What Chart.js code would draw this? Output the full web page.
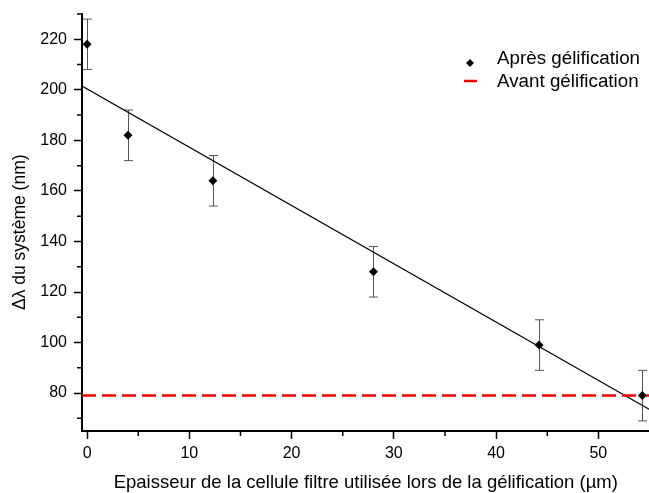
<!DOCTYPE html>
<html>
<head>
<meta charset="utf-8">
<script src="https://cdn.jsdelivr.net/npm/chart.js@4.4.1/dist/chart.umd.min.js"></script>
<style>
  html, body { margin: 0; padding: 0; background: #fff; overflow: hidden; }
  #wrap { width: 649px; height: 493px; overflow: hidden; }
</style>
</head>
<body>
<div id="wrap"><canvas id="chart" width="654" height="493"></canvas></div>
<script>
// données
const epaisseur = [0, 4, 12.3, 28, 44.2, 54.3];
const deltaLambda = [218, 182, 164, 128, 99, 79];
const erreur = [10, 10, 10, 10, 10, 10];

// droite d'ajustement (extrémités)
const fitX = [-0.5, 55];
const fitY = [201.5, 73.5];

// référence avant gélification
const avantX = [-0.5, 55];
const avantY = [79, 79];

const xTicks = [0, 10, 20, 30, 40, 50];
const xMinor = [5, 15, 25, 35, 45];
const yTicks = [80, 100, 120, 140, 160, 180, 200, 220];
const yMinor = [70, 90, 110, 130, 150, 170, 190, 210, 230];

const FONT = 'Liberation Sans, Arial, sans-serif';

const toPts = (xs, ys) => xs.map((x, i) => ({x: x, y: ys[i]}));

// barres d'erreur
const errorBars = {
  id: 'errorBars',
  beforeDatasetsDraw(chart) {
    const {ctx, scales: {x, y}} = chart;
    ctx.save();
    ctx.strokeStyle = '#555';
    ctx.lineWidth = 1;
    epaisseur.forEach((v, i) => {
      const px = Math.round(x.getPixelForValue(v)) + 0.5;
      const top = y.getPixelForValue(deltaLambda[i] + erreur[i]);
      const bot = y.getPixelForValue(deltaLambda[i] - erreur[i]);
      ctx.beginPath();
      ctx.moveTo(px, top); ctx.lineTo(px, bot);
      ctx.moveTo(px - 4.5, top); ctx.lineTo(px + 4.5, top);
      ctx.moveTo(px - 4.5, bot); ctx.lineTo(px + 4.5, bot);
      ctx.stroke();
    });
    ctx.restore();
  }
};

// petites graduations
const minorTicks = {
  id: 'minorTicks',
  afterDraw(chart) {
    const {ctx, scales: {x, y}, chartArea} = chart;
    ctx.save();
    ctx.strokeStyle = '#000';
    ctx.lineWidth = 1.5;
    ctx.beginPath();
    yMinor.forEach(v => {
      const py = y.getPixelForValue(v);
      ctx.moveTo(chartArea.left - 5, py); ctx.lineTo(chartArea.left, py);
    });
    xMinor.forEach(v => {
      const px = x.getPixelForValue(v);
      ctx.moveTo(px, chartArea.bottom); ctx.lineTo(px, chartArea.bottom + 5);
    });
    ctx.stroke();
    ctx.restore();
  }
};

// légende dans la zone du graphe
const legendBox = {
  id: 'legendBox',
  afterDraw(chart) {
    const ctx = chart.ctx;
    ctx.save();
    ctx.fillStyle = '#000';
    ctx.beginPath();
    ctx.moveTo(470, 59); ctx.lineTo(474, 63); ctx.lineTo(470, 67); ctx.lineTo(466, 63);
    ctx.closePath();
    ctx.fill();
    ctx.strokeStyle = '#e00';
    ctx.lineWidth = 2.5;
    ctx.beginPath();
    ctx.moveTo(464, 81); ctx.lineTo(477, 81);
    ctx.stroke();
    ctx.font = '18.8px ' + FONT;
    ctx.textBaseline = 'alphabetic';
    ctx.fillStyle = '#000';
    ctx.fillText('Après gélification', 497, 64);
    ctx.fillText('Avant gélification', 497, 87);
    ctx.restore();
  }
};

new Chart(document.getElementById('chart'), {
  type: 'scatter',
  data: {
    datasets: [
      {
        label: 'Après gélification',
        data: toPts(epaisseur, deltaLambda),
        pointStyle: 'rectRot',
        pointRadius: 4.5,
        backgroundColor: '#000',
        borderColor: '#000',
        borderWidth: 0,
        order: 0
      },
      {
        label: 'fit',
        data: toPts(fitX, fitY),
        showLine: true,
        borderColor: '#000',
        borderWidth: 1.2,
        pointRadius: 0,
        order: 2
      },
      {
        label: 'Avant gélification',
        data: toPts(avantX, avantY),
        showLine: true,
        borderColor: '#e00',
        borderWidth: 2.5,
        borderDash: [14, 6],
        pointRadius: 0,
        order: 1
      }
    ]
  },
  options: {
    responsive: false,
    animation: false,
    devicePixelRatio: 1,
    layout: { padding: { top: 14, right: 0, left: 0, bottom: 0 } },
    plugins: { legend: { display: false }, tooltip: { enabled: false } },
    scales: {
      x: {
        type: 'linear',
        min: -0.5,
        max: 55,
        afterBuildTicks: s => { s.ticks = xTicks.map(v => ({value: v})); },
        afterFit: s => { s.height = 62; s.paddingLeft = 0; s.paddingRight = 0; },
        grid: { drawOnChartArea: false, drawTicks: true, tickLength: 8, color: '#000', tickWidth: 1.5 },
        border: { display: true, color: '#000', width: 2 },
        ticks: { color: '#000', font: { family: FONT, size: 16 }, padding: 5, maxRotation: 0 },
        title: {
          display: true,
          text: 'Epaisseur de la cellule filtre utilisée lors de la gélification (µm)',
          color: '#000',
          font: { family: FONT, size: 18.5 },
          padding: { top: 0, bottom: -1 }
        }
      },
      y: {
        type: 'linear',
        min: 65,
        max: 230,
        afterBuildTicks: s => { s.ticks = yTicks.map(v => ({value: v})); },
        afterFit: s => { s.width = 82; s.paddingTop = 0; s.paddingBottom = 0; },
        grid: { drawOnChartArea: false, drawTicks: true, tickLength: 8, color: '#000', tickWidth: 1.5 },
        border: { display: true, color: '#000', width: 2 },
        ticks: { color: '#000', font: { family: FONT, size: 16 }, padding: 7 },
        title: {
          display: true,
          text: 'Δλ du système (nm)\u00a0\u00a0\u00a0\u00a0',
          color: '#000',
          font: { family: FONT, size: 17.5 },
          padding: { top: 10, bottom: 0 }
        }
      }
    }
  },
  plugins: [errorBars, minorTicks, legendBox]
});
</script>
</body>
</html>
